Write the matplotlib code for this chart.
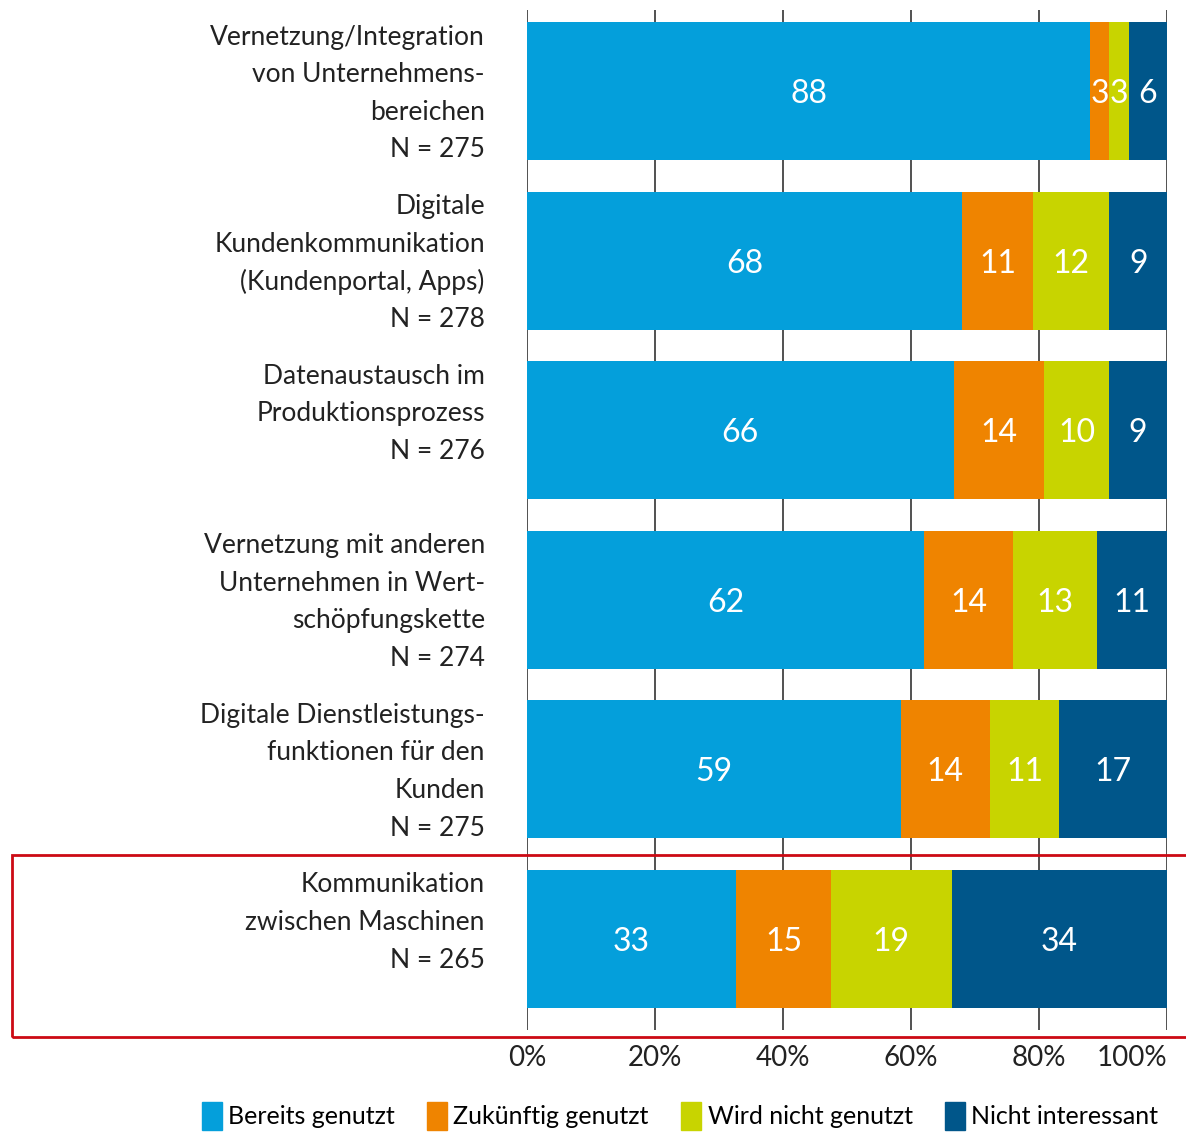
import matplotlib.pyplot as plt
import numpy as np
from matplotlib.patches import Rectangle, Patch

plt.rcParams['font.family'] = ['Lato', 'DejaVu Sans']

categories = [
    ["Vernetzung/Integration", "von Unternehmens-", "bereichen"],
    ["Digitale", "Kundenkommunikation", "(Kundenportal, Apps)"],
    ["Datenaustausch im", "Produktionsprozess"],
    ["Vernetzung mit anderen", "Unternehmen in Wert-", "schöpfungskette"],
    ["Digitale Dienstleistungs-", "funktionen für den", "Kunden"],
    ["Kommunikation", "zwischen Maschinen"],
]
n_values = [275, 278, 276, 274, 275, 265]

series_names = ["Bereits genutzt", "Zukünftig genutzt", "Wird nicht genutzt", "Nicht interessant"]
bereits = [88, 68, 66, 62, 59, 33]
zukuenftig = [3, 11, 14, 14, 14, 15]
nicht_genutzt = [3, 12, 10, 13, 11, 19]
nicht_interessant = [6, 9, 9, 11, 17, 34]
colors = ["#049fdb", "#ef8400", "#c8d400", "#00568a"]

xticks = [0, 20, 40, 60, 80, 100]

W, H = 1186, 1132
fig = plt.figure(figsize=(W / 100, H / 100), dpi=100)
ax = fig.add_axes([527 / W, 1 - 1030 / H, 640 / W, 1020 / H])

data = np.array([bereits, zukuenftig, nicht_genutzt, nicht_interessant], dtype=float)
share = data / data.sum(axis=0) * 100
y = np.arange(len(categories))

left = np.zeros(len(categories))
for k in range(4):
    ax.barh(y, share[k], left=left, height=0.815, color=colors[k], zorder=3)
    for i in range(len(categories)):
        ax.text(left[i] + share[k][i] / 2, y[i], str(int(data[k][i])),
                ha='center', va='center_baseline', color='white', fontsize=23, zorder=4)
    left += share[k]

# category labels, one line at a time
tr = ax.get_yaxis_transform()
for i, lines in enumerate(categories):
    for j, line in enumerate(lines + [f"N = {n_values[i]}"]):
        ax.text(-0.066, i - 0.333 + j * 0.2215, line, transform=tr, ha='right',
                va='center_baseline', fontsize=19, color='#222222')

ax.set_ylim(5.537, -0.478)
ax.set_xlim(0, 100)
ax.set_yticks([])
ax.set_xticks(xticks)
ax.set_xticklabels([f"{t}%" for t in xticks], fontsize=20, color='#222222')
ax.get_xticklabels()[-1].set_horizontalalignment('right')
ax.tick_params(axis='x', length=0, pad=11)
ax.set_axisbelow(True)
ax.xaxis.grid(True, color='#333333', linewidth=1.2, zorder=0)
for s in ax.spines.values():
    s.set_visible(False)

# red highlight box around the last category
fig.patches.append(Rectangle((12 / W, 1 - 1037 / H), (W - 10) / W, 182 / H,
                             transform=fig.transFigure, fill=False,
                             edgecolor='#cc0a14', linewidth=2, clip_on=False))

handles = [Patch(color=c) for c in colors]
fig.legend(handles, series_names, loc='center', bbox_to_anchor=(680 / W, 1 - 1116 / H),
           ncol=4, frameon=False, fontsize=18, handlelength=0.8, handleheight=1.4,
           handletextpad=0.25, columnspacing=1.3)

fig.savefig("out.png", dpi=100)
